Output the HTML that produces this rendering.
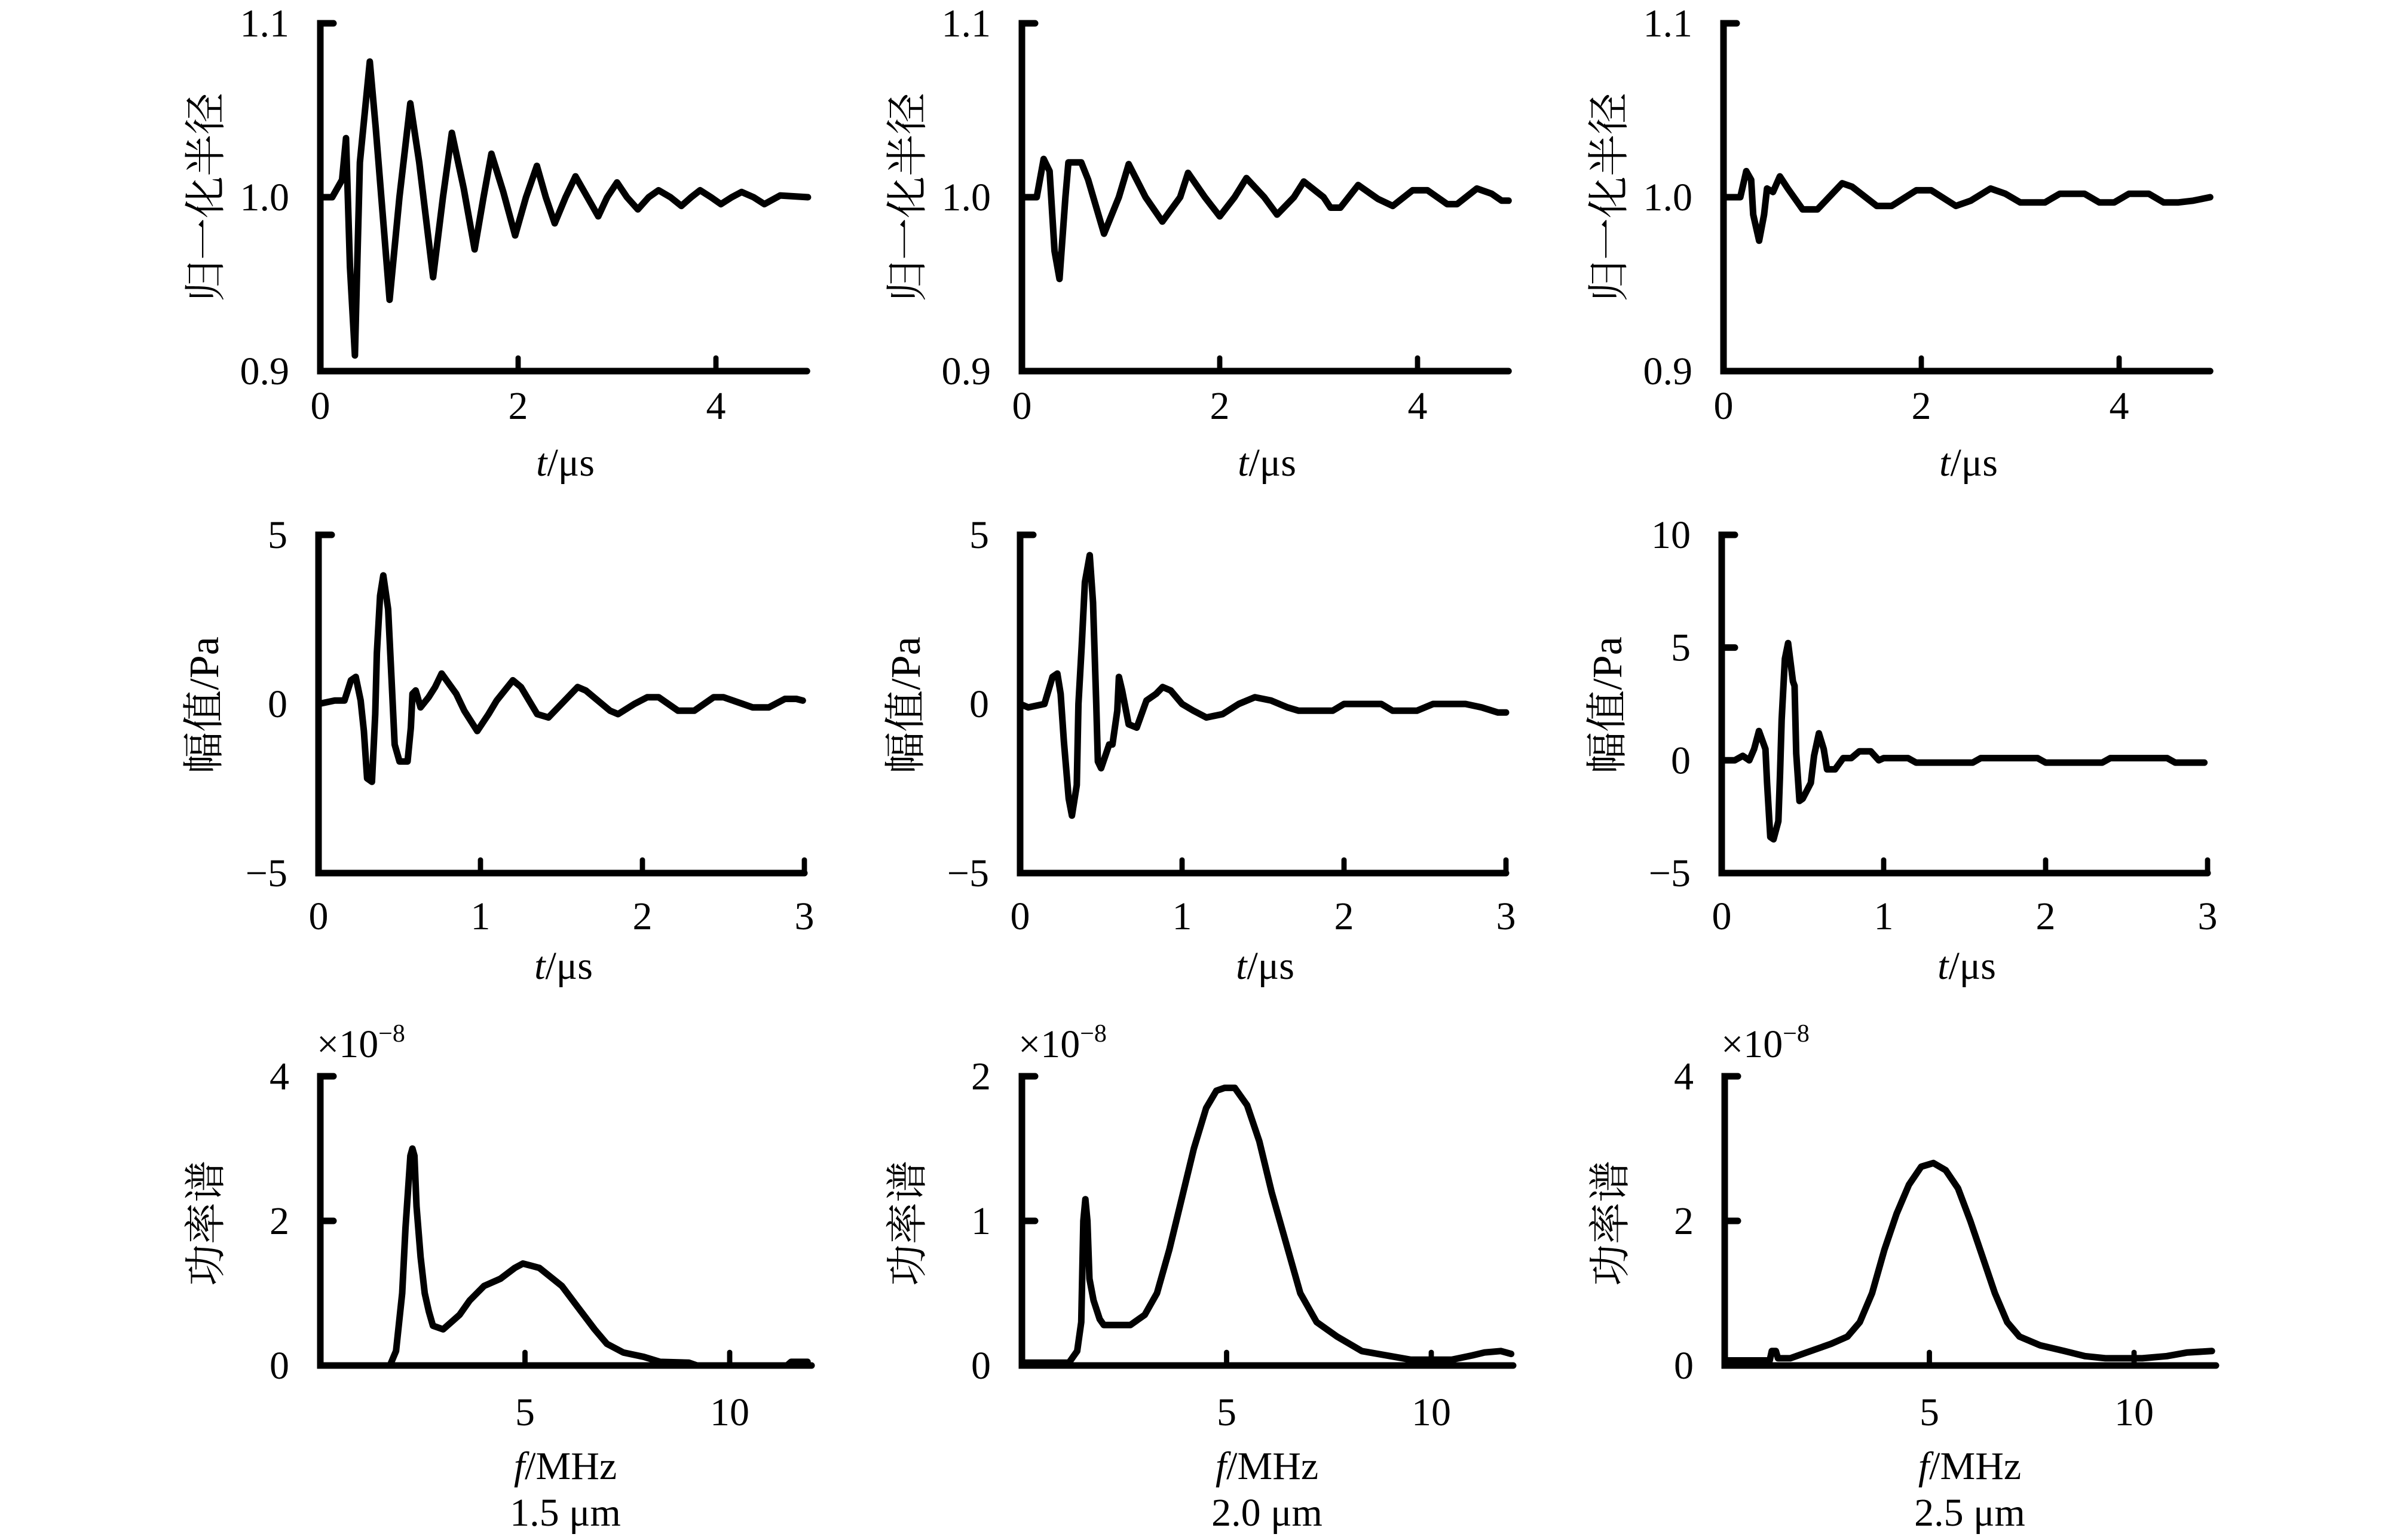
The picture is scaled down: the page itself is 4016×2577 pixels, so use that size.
<!DOCTYPE html>
<html><head><meta charset="utf-8">
<style>
html,body{margin:0;padding:0;background:#fff;}
svg{display:block;}
text{font-family:"Liberation Serif","Noto Serif CJK SC",serif;fill:#000;}
</style></head>
<body>
<svg id="chart" width="4016" height="2577" viewBox="0 0 4016 2577" xmlns="http://www.w3.org/2000/svg"></svg>
<script>
// ---------- Data ----------
// Row 1: normalized radius vs t (µs)
const radiusT15 = [0,0.12,0.22,0.26,0.30,0.35,0.40,0.50,0.56,0.70,0.80,0.91,1.00,1.14,1.24,1.33,1.45,1.56,1.65,1.73,1.85,1.97,2.08,2.19,2.28,2.37,2.48,2.58,2.70,2.81,2.90,3.00,3.10,3.21,3.32,3.42,3.54,3.65,3.75,3.84,3.95,4.05,4.16,4.26,4.38,4.49,4.65,4.93];
const radiusV15 = [1.0,1.0,1.01,1.034,0.96,0.909,1.02,1.078,1.04,0.941,1.0,1.054,1.02,0.954,1.0,1.037,1.005,0.970,1.0,1.025,1.003,0.978,1.0,1.018,1.0,0.985,1.0,1.012,1.0,0.989,1.0,1.0085,1.0,0.993,1.0,1.004,1.0,0.995,1.0,1.004,1.0,0.996,1.0,1.003,1.0,0.996,1.001,1.0];
const radiusT20 = [0,0.15,0.22,0.28,0.33,0.38,0.44,0.47,0.60,0.67,0.83,0.98,1.08,1.25,1.42,1.60,1.68,1.85,2.00,2.15,2.27,2.45,2.58,2.75,2.85,3.05,3.12,3.22,3.40,3.60,3.75,3.95,4.10,4.30,4.40,4.60,4.75,4.85,4.92];
const radiusV20 = [1.0,1.0,1.022,1.015,0.969,0.953,1.0,1.02,1.02,1.01,0.979,1.0,1.019,1.0,0.986,1.0,1.014,1.0,0.989,1.0,1.011,1.0,0.99,1.0,1.009,1.0,0.994,0.994,1.007,0.999,0.995,1.004,1.004,0.996,0.996,1.005,1.002,0.998,0.998];
const radiusT25 = [0,0.17,0.23,0.28,0.30,0.36,0.41,0.44,0.50,0.57,0.65,0.80,0.95,1.20,1.30,1.55,1.70,1.95,2.10,2.35,2.50,2.70,2.85,3.00,3.25,3.40,3.65,3.80,3.95,4.10,4.30,4.45,4.60,4.75,4.92];
const radiusV25 = [1.0,1.0,1.015,1.01,0.99,0.975,0.99,1.005,1.003,1.012,1.005,0.993,0.993,1.008,1.006,0.995,0.995,1.004,1.004,0.995,0.998,1.005,1.002,0.997,0.997,1.002,1.002,0.997,0.997,1.002,1.002,0.997,0.997,0.998,1.0];
// Row 2: amplitude (Pa) vs t (µs)
const ampT15 = [0,0.10,0.16,0.20,0.23,0.26,0.28,0.30,0.33,0.35,0.36,0.38,0.40,0.43,0.45,0.47,0.50,0.55,0.57,0.58,0.60,0.63,0.68,0.72,0.76,0.85,0.90,0.98,1.05,1.10,1.20,1.25,1.35,1.42,1.60,1.65,1.80,1.85,1.95,2.03,2.10,2.22,2.32,2.44,2.50,2.62,2.68,2.78,2.88,2.95,2.99];
const ampV15 = [0,0.1,0.1,0.7,0.8,0.1,-0.8,-2.2,-2.3,-0.3,1.5,3.2,3.8,2.8,0.8,-1.2,-1.7,-1.7,-0.7,0.3,0.4,-0.1,0.2,0.5,0.9,0.3,-0.2,-0.8,-0.3,0.1,0.7,0.5,-0.3,-0.4,0.5,0.4,-0.2,-0.3,0.0,0.2,0.2,-0.2,-0.2,0.2,0.2,0.0,-0.1,-0.1,0.15,0.15,0.1];
const ampT20 = [0,0.05,0.15,0.20,0.23,0.25,0.27,0.30,0.32,0.35,0.36,0.38,0.40,0.43,0.45,0.46,0.47,0.48,0.50,0.55,0.57,0.60,0.61,0.63,0.67,0.72,0.78,0.84,0.88,0.93,1.00,1.07,1.15,1.25,1.35,1.45,1.55,1.65,1.72,1.93,2.00,2.23,2.30,2.45,2.55,2.75,2.85,2.95,3.00];
const ampV20 = [0,-0.1,0,0.8,0.9,0.3,-1.1,-2.8,-3.3,-2.4,0.0,1.7,3.6,4.4,3.0,1.5,0.0,-1.7,-1.9,-1.2,-1.2,-0.2,0.8,0.4,-0.6,-0.7,0.1,0.3,0.5,0.4,0.0,-0.2,-0.4,-0.3,0.0,0.2,0.1,-0.1,-0.2,-0.2,0.0,0.0,-0.2,-0.2,0.0,0.0,-0.1,-0.25,-0.25];
const ampT25 = [0,0.08,0.13,0.17,0.20,0.23,0.27,0.28,0.30,0.32,0.35,0.36,0.37,0.39,0.41,0.44,0.45,0.46,0.48,0.50,0.55,0.57,0.60,0.63,0.65,0.70,0.75,0.80,0.85,0.92,0.97,1.00,1.15,1.20,1.55,1.60,1.95,2.00,2.35,2.40,2.75,2.80,2.98];
const ampV25 = [0,0,0.2,0,0.5,1.3,0.5,-1.0,-3.4,-3.5,-2.7,-0.6,1.8,4.5,5.2,3.5,3.3,0.3,-1.8,-1.7,-1.0,0.2,1.2,0.5,-0.4,-0.4,0.1,0.1,0.4,0.4,0.0,0.1,0.1,-0.1,-0.1,0.1,0.1,-0.1,-0.1,0.1,0.1,-0.1,-0.1];
// Row 3: power spectrum (×1e-8) vs f (MHz)
const psdF15 = [0,1.70,1.85,2.00,2.08,2.20,2.25,2.30,2.35,2.45,2.55,2.65,2.75,3.00,3.40,3.65,4.00,4.40,4.75,4.95,5.35,5.90,6.30,6.70,7.00,7.40,7.90,8.30,9.00,9.20,11.40,11.50,11.90];
const psdV15 = [0,0,0.2,1.0,1.9,2.9,3.0,2.9,2.2,1.5,1.0,0.75,0.55,0.5,0.7,0.9,1.1,1.2,1.35,1.41,1.35,1.1,0.8,0.5,0.3,0.18,0.12,0.05,0.04,0.0,0.0,0.05,0.05];
const psdF20 = [0,1.15,1.35,1.45,1.50,1.55,1.60,1.65,1.75,1.90,2.00,2.65,3.00,3.30,3.60,3.90,4.20,4.50,4.75,4.95,5.20,5.50,5.80,6.10,6.45,6.80,7.20,7.70,8.30,8.90,9.50,10.50,11.00,11.30,11.70,11.95];
const psdV20 = [0.02,0.02,0.1,0.3,1.0,1.15,1.0,0.6,0.45,0.32,0.28,0.28,0.35,0.5,0.8,1.15,1.5,1.78,1.9,1.92,1.92,1.8,1.55,1.2,0.85,0.5,0.3,0.2,0.1,0.07,0.04,0.04,0.07,0.09,0.1,0.08];
const psdF25 = [0,1.10,1.15,1.25,1.30,1.60,2.10,2.60,3.00,3.30,3.60,3.90,4.20,4.50,4.80,5.10,5.40,5.70,6.00,6.30,6.60,6.90,7.20,7.70,8.30,8.80,9.30,10.20,10.80,11.30,11.90];
const psdV25 = [0.07,0.07,0.2,0.2,0.1,0.1,0.2,0.3,0.4,0.6,1.0,1.6,2.1,2.5,2.75,2.8,2.7,2.45,2.0,1.5,1.0,0.6,0.4,0.28,0.2,0.13,0.1,0.1,0.13,0.18,0.2];

// Tick labels
const r1YTicks = ["1.1","1.0","0.9"];
const r1XTicks = [0,2,4];
const r2XTicks = [0,1,2,3];
const r3XTicks = [5,10];

// ---------- Drawing ----------
const NS = "http://www.w3.org/2000/svg";
const svg = document.getElementById('chart');
function mk(tag, attrs, parent){
  const e = document.createElementNS(NS, tag);
  for (const k in attrs) e.setAttribute(k, attrs[k]);
  (parent||svg).appendChild(e);
  return e;
}
function txt(s, x, y, size, anchor, parent, name){
  const t = mk('text', {x:x, y:y, 'font-size':size, 'text-anchor':anchor||'middle'}, parent);
  
  
  t.textContent = s;
  return t;
}
const LW = 11;
const FS = 66;

function panel(cfg){
  const g = mk('g', {});
  
  
  const x0 = cfg.left, pxPerUnit = cfg.pxPerUnit;
  const xs = v => x0 + (v - cfg.xmin) * pxPerUnit;
  const ys = v => cfg.bottom - (v - cfg.ymin) / (cfg.ymax - cfg.ymin) * (cfg.bottom - cfg.top);
  const ax = mk('path', {d:`M${x0+22},${cfg.top} L${x0},${cfg.top} L${x0},${cfg.bottom} L${xs(cfg.xend)},${cfg.bottom}`, fill:'none', stroke:'#000', 'stroke-width':LW, 'stroke-linecap':'round', 'stroke-linejoin':'miter'}, g);
  
  
  cfg.yTickVals.forEach(v=>{
    const t = mk('line', {x1:x0, x2:x0+22, y1:ys(v), y2:ys(v), stroke:'#000', 'stroke-width':LW, 'stroke-linecap':'round'}, g);
    
    
  });
  cfg.yLabels.forEach((s,i)=>{
    txt(s, x0-52, ys(cfg.yLabelVals[i]) + 22, FS, 'end', g, 'y-tick-label');
  });
  cfg.xTicks.forEach(v=>{
    if (v !== cfg.xmin){
      const t = mk('line', {x1:xs(v), x2:xs(v), y1:cfg.bottom, y2:cfg.bottom-22, stroke:'#000', 'stroke-width':LW*0.8, 'stroke-linecap':'round'}, g);
      
      
    }
    txt(String(v), xs(v), cfg.bottom + cfg.xLabelDy, FS, 'middle', g, 'x-tick-label');
  });
  const d = cfg.xv.map((v,i)=>(i?'L':'M')+xs(v).toFixed(1)+','+ys(cfg.yv[i]).toFixed(1)).join(' ');
  const p = mk('path', {d:d, fill:'none', stroke:'#000', 'stroke-width':LW, 'stroke-linejoin':'round', 'stroke-linecap':'round'}, g);
  
  
  const cx = x0 + 410;
  if (cfg.xItalic){
    const t = mk('text', {x:cx, y:cfg.xTitleY, 'font-size':FS, 'text-anchor':'middle'}, g);
    
    
    const a = mk('tspan', {'font-style':'italic'}, t); a.textContent = cfg.xItalic;
    const b = mk('tspan', {}, t); b.textContent = cfg.xRest;
  }
  const yt = mk('text', {x:0, y:0, 'font-size':cfg.yTitleSize||70, 'text-anchor':'middle', transform:`translate(${x0-168},${cfg.yTitleCY}) rotate(-90)`}, g);
  
  
  yt.textContent = cfg.yTitle;
  if (cfg.mult){
    const m = mk('text', {x:x0-6, y:cfg.top-32, 'font-size':FS, 'text-anchor':'start'}, g);
    
    
    const a = mk('tspan', {}, m); a.textContent = '×10';
    const b = mk('tspan', {'font-size':42, dy:-26}, m); b.textContent = '−8';
  }
  if (cfg.caption){
    txt(cfg.caption, cx, 2583 - 30, FS, 'middle', g, 'panel-caption');
  }
}

const lefts = [536, 1710, 2884];
const radiusSets = [[radiusT15,radiusV15],[radiusT20,radiusV20],[radiusT25,radiusV25]];
const ampSets = [[ampT15,ampV15],[ampT20,ampV20],[ampT25,ampV25]];
const psdSets = [[psdF15,psdV15],[psdF20,psdV20],[psdF25,psdV25]];
const captions = ["1.5 μm","2.0 μm","2.5 μm"];
const ampRanges = [[-5,5,["5","0","−5"],[5,0,-5],[]],[-5,5,["5","0","−5"],[5,0,-5],[]],[-5,10,["10","5","0","−5"],[10,5,0,-5],[5]]];
const psdRanges = [[4,["4","2","0"],[4,2,0],[2]],[2,["2","1","0"],[2,1,0],[1]],[4,["4","2","0"],[4,2,0],[2]]];

for (let c=0;c<3;c++){
  panel({name:'radius-panel-'+(c+1), left:lefts[c], top:39, bottom:621, xmin:0, xend:4.92, pxPerUnit:165.5,
    ymin:0.9, ymax:1.1, yTickVals:[], yLabels:r1YTicks, yLabelVals:[1.1,1.0,0.9],
    xTicks:r1XTicks, xLabelDy:80, xv:radiusSets[c][0], yv:radiusSets[c][1], seriesName:'radius-line',
    xItalic:'t', xRest:'/μs', xTitleY:796, yTitle:'归一化半径', yTitleCY:330});
  const ar = ampRanges[c];
  panel({name:'amplitude-panel-'+(c+1), left:lefts[c]-3, top:895, bottom:1461, xmin:0, xend:3, pxPerUnit:271,
    ymin:ar[0], ymax:ar[1], yTickVals:ar[4], yLabels:ar[2], yLabelVals:ar[3],
    xTicks:r2XTicks, xLabelDy:94, xv:ampSets[c][0], yv:ampSets[c][1], seriesName:'amplitude-line',
    xItalic:'t', xRest:'/μs', xTitleY:1638, yTitle:'幅值/Pa', yTitleCY:1180});
  const pr = psdRanges[c];
  panel({name:'spectrum-panel-'+(c+1), left:lefts[c]+(c===2?2:0), top:1801, bottom:2285, xmin:0, xend:12, pxPerUnit:68.5,
    ymin:0, ymax:pr[0], yTickVals:pr[3], yLabels:pr[1], yLabelVals:pr[2],
    xTicks:r3XTicks, xLabelDy:100, xv:psdSets[c][0], yv:psdSets[c][1], seriesName:'spectrum-line',
    xItalic:'f', xRest:'/MHz', xTitleY:2475, yTitle:'功率谱', yTitleCY:2047, mult:true, caption:captions[c]});
}
</script>
</body></html>
